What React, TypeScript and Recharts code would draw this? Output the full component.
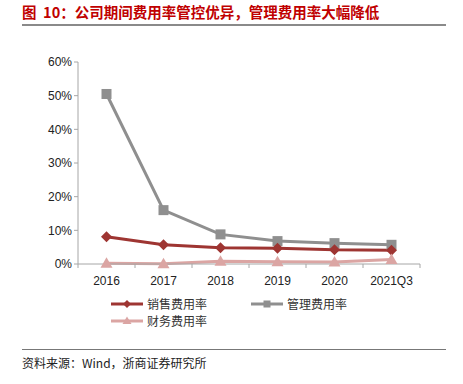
import React from "react";
import { LineChart, Line, XAxis, YAxis } from "recharts";

const categories = ["2016", "2017", "2018", "2019", "2020", "2021Q3"];
const salesRate = [0.081, 0.057, 0.048, 0.047, 0.042, 0.041];
const adminRate = [0.505, 0.16, 0.088, 0.068, 0.062, 0.057];
const financeRate = [0.002, 0.001, 0.008, 0.007, 0.006, 0.013];
const yTicks = [0, 0.1, 0.2, 0.3, 0.4, 0.5, 0.6];

const data = categories.map((c, i) => ({
  name: c,
  sales: salesRate[i],
  admin: adminRate[i],
  finance: financeRate[i],
}));

const C_SALES = "#9e3532";
const C_ADMIN = "#8f8f8f";
const C_FIN = "#dba5a3";
const AXIS = "#a6a6a6";
const FONT = "'Liberation Sans', Arial, sans-serif";
const CJK = "'Noto Sans CJK SC', sans-serif";

const PLOT_LEFT = 78;
const PLOT_RIGHT = 420;
const BAND = (PLOT_RIGHT - PLOT_LEFT) / categories.length;

const Diamond = (props: any) => {
  const { cx, cy } = props;
  if (cx == null || cy == null) return null;
  const r = 5.5;
  return <path d={`M${cx},${cy - r}L${cx + r},${cy}L${cx},${cy + r}L${cx - r},${cy}Z`} fill={C_SALES} />;
};
const Square = (props: any) => {
  const { cx, cy } = props;
  if (cx == null || cy == null) return null;
  const r = 5;
  return <rect x={cx - r} y={cy - r} width={2 * r} height={2 * r} fill={C_ADMIN} />;
};
const Triangle = (props: any) => {
  const { cx, cy } = props;
  if (cx == null || cy == null) return null;
  const r = 6;
  return <path d={`M${cx},${cy - r}L${cx + r},${cy + r * 0.75}L${cx - r},${cy + r * 0.75}Z`} fill={C_FIN} />;
};

const XTick = (props: any) => {
  const { x, y, payload, index } = props;
  return (
    <g>
      <line x1={x - BAND / 2} y1={y - 8} x2={x - BAND / 2} y2={y - 4} stroke={AXIS} />
      {index === categories.length - 1 && (
        <line x1={x + BAND / 2} y1={y - 8} x2={x + BAND / 2} y2={y - 4} stroke={AXIS} />
      )}
      <text x={x} y={y + 13} textAnchor="middle" fontFamily={FONT} fontSize={12} fill="#222">
        {payload.value}
      </text>
    </g>
  );
};

const legendItems = [
  { label: "销售费用率", color: C_SALES, marker: "d" },
  { label: "管理费用率", color: C_ADMIN, marker: "s" },
  { label: "财务费用率", color: C_FIN, marker: "t" },
];

const LegendBlock = () => (
  <div style={{ position: "absolute", left: 110, top: 296, width: 320, height: 34 }}>
    {legendItems.map((it, i) => {
      const left = i === 1 ? 140 : 0;
      const top = i === 2 ? 17 : 0;
      return (
        <div key={it.label} style={{ position: "absolute", left, top, display: "flex", alignItems: "center", height: 15 }}>
          <svg width={34} height={12}>
            <line x1={1} y1={6} x2={33} y2={6} stroke={it.color} strokeWidth={3} />
            {it.marker === "d" && <path d="M17,2L21,6L17,10L13,6Z" fill={it.color} />}
            {it.marker === "s" && <rect x={13.5} y={2.5} width={7} height={7} fill={it.color} />}
            {it.marker === "t" && <path d="M17,1.5L21.5,9L12.5,9Z" fill={it.color} />}
          </svg>
          <span style={{ fontFamily: CJK, fontSize: 12, color: "#333", marginLeft: 3, lineHeight: "15px" }}>{it.label}</span>
        </div>
      );
    })}
  </div>
);

export default function App() {
  return (
    <div style={{ position: "absolute", left: 0, top: 0, width: 463, height: 384, background: "#fff" }}>
      <div
        style={{
          position: "absolute",
          left: 22,
          top: 3,
          fontFamily: CJK,
          fontWeight: 700,
          fontSize: 14.5,
          color: "#c00000",
          whiteSpace: "nowrap",
          lineHeight: "18px",
        }}
      >
        图&nbsp;&nbsp;10：公司期间费用率管控优异，管理费用率大幅降低
      </div>
      <div style={{ position: "absolute", left: 22, top: 24, width: 424, height: 2, background: "#8a8a8a" }} />
      <div style={{ position: "absolute", left: 0, top: 0 }}>
        <LineChart width={463} height={300} data={data} margin={{ top: 62, right: 43, bottom: 6, left: 0 }}>
          <XAxis
            dataKey="name"
            stroke={AXIS}
            tickLine={false}
            tick={<XTick />}
            padding={{ left: BAND / 2, right: BAND / 2 }}
            interval={0}
            height={30}
          />
          <YAxis
            width={78}
            domain={[0, 0.6]}
            ticks={yTicks}
            stroke={AXIS}
            tickSize={4}
            tickFormatter={(v: number) => `${Math.round(v * 100)}%`}
            tick={{ fontFamily: FONT, fontSize: 12, fill: "#222" }}
          />
          <Line dataKey="admin" stroke={C_ADMIN} strokeWidth={3} dot={<Square />} isAnimationActive={false} />
          <Line dataKey="sales" stroke={C_SALES} strokeWidth={3} dot={<Diamond />} isAnimationActive={false} />
          <Line dataKey="finance" stroke={C_FIN} strokeWidth={3} dot={<Triangle />} isAnimationActive={false} />
        </LineChart>
      </div>
      <LegendBlock />
      <div style={{ position: "absolute", left: 22, top: 349, width: 424, height: 1, background: "#777" }} />
      <div
        style={{
          position: "absolute",
          left: 22,
          top: 355,
          fontFamily: CJK,
          fontSize: 12,
          color: "#222",
          whiteSpace: "nowrap",
          lineHeight: "16px",
        }}
      >
        资料来源：Wind，浙商证券研究所
      </div>
    </div>
  );
}
